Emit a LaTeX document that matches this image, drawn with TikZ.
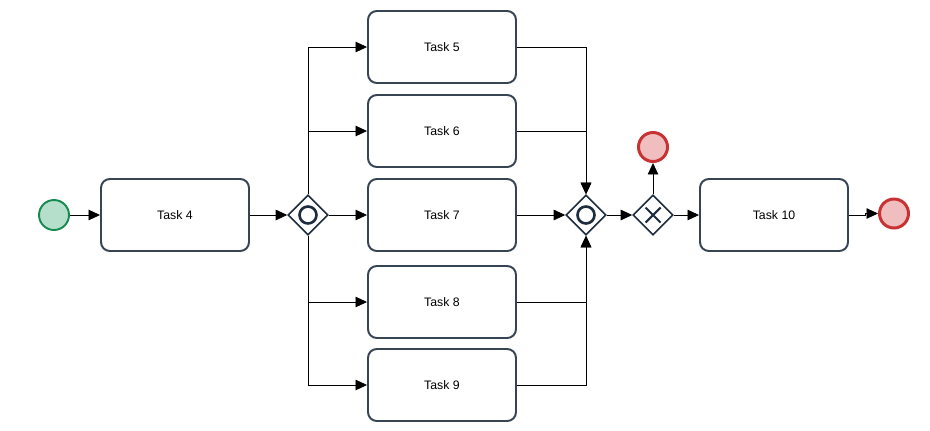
\documentclass[tikz,border=0pt]{standalone}
\usepackage{fontspec}
\setmainfont{Liberation Sans}
\usetikzlibrary{shapes.geometric, arrows.meta, positioning, calc}
\definecolor{taskborder}{RGB}{55,68,84}
\definecolor{gateborder}{RGB}{30,45,62}
\definecolor{startgreen}{RGB}{22,138,80}
\definecolor{startfill}{RGB}{181,223,203}
\definecolor{endred}{RGB}{200,50,50}
\definecolor{endfill}{RGB}{240,190,190}
\tikzset{
    taskbox/.style={rectangle, rounded corners=5pt, minimum width=2.96cm, minimum height=1.44cm, draw=taskborder, line width=1.1pt, fill=white, font=\fontsize{7}{8}\selectfont, align=center},
    gatebox/.style={diamond, aspect=1, minimum width=0.8cm, minimum height=0.8cm, inner sep=0pt, draw=gateborder, line width=0.9pt, fill=white},
    startevent/.style={circle, minimum size=0.6cm, inner sep=0pt, draw=startgreen, line width=1.1pt, fill=startfill},
    endevent/.style={circle, minimum size=0.58cm, inner sep=0pt, draw=endred, line width=1.7pt, fill=endfill},
    flow/.style={-{Triangle[length=2.3mm, width=2.1mm]}, line width=0.5pt, black},
}

\begin{document}
\begin{tikzpicture}[x=0.02cm, y=-0.02cm]
\useasboundingbox (0,0) rectangle (930,430);

\node[startevent] (start) at (54,215) {};
\node[taskbox] (t4) at (175,215) {Task 4};
\node[gatebox] (split) at (308,215) {};
\draw[gateborder, line width=1.5pt] (split.center) circle (8.5);

\node[taskbox] (t5) at (442,47) {Task 5};
\node[taskbox] (t6) at (442,131) {Task 6};
\node[taskbox] (t7) at (442,215) {Task 7};
\node[taskbox] (t8) at (442,302) {Task 8};
\node[taskbox] (t9) at (442,385) {Task 9};

\node[gatebox] (join) at (586,215) {};
\draw[gateborder, line width=1.5pt] (join.center) circle (8.5);

\node[gatebox] (xor) at (653,215) {};
\draw[gateborder, line width=1.2pt] ($(xor.center)+(-7.5,-7.5)$) -- ++(15,15)
    ($(xor.center)+(-7.5,7.5)$) -- ++(15,-15);
\node[endevent] (end1) at (653,147) {};

\node[taskbox] (t10) at (774,215) {Task 10};
\node[endevent] (end2) at (894,213.5) {};

% flows
\draw[flow] (start) -- (t4);
\draw[flow] (t4) -- (split);
\draw[flow] (split.north) |- (t5.west);
\draw[flow] (split.north) |- (t6.west);
\draw[flow] (split) -- (t7);
\draw[flow] (split.south) |- (t8.west);
\draw[flow] (split.south) |- (t9.west);

\draw[flow] (t5.east) -| (join.north);
\draw[flow] (t6.east) -| (join.north);
\draw[flow] (t7) -- (join);
\draw[flow] (t8.east) -| (join.south);
\draw[flow] (t9.east) -| (join.south);

\draw[flow] (join) -- (xor);
\draw[flow] (xor.north) -- (end1);
\draw[flow] (xor) -- (t10);
\draw[flow] (t10.east) -- ++(16,0) |- (end2.west);

\end{tikzpicture}
\end{document}
